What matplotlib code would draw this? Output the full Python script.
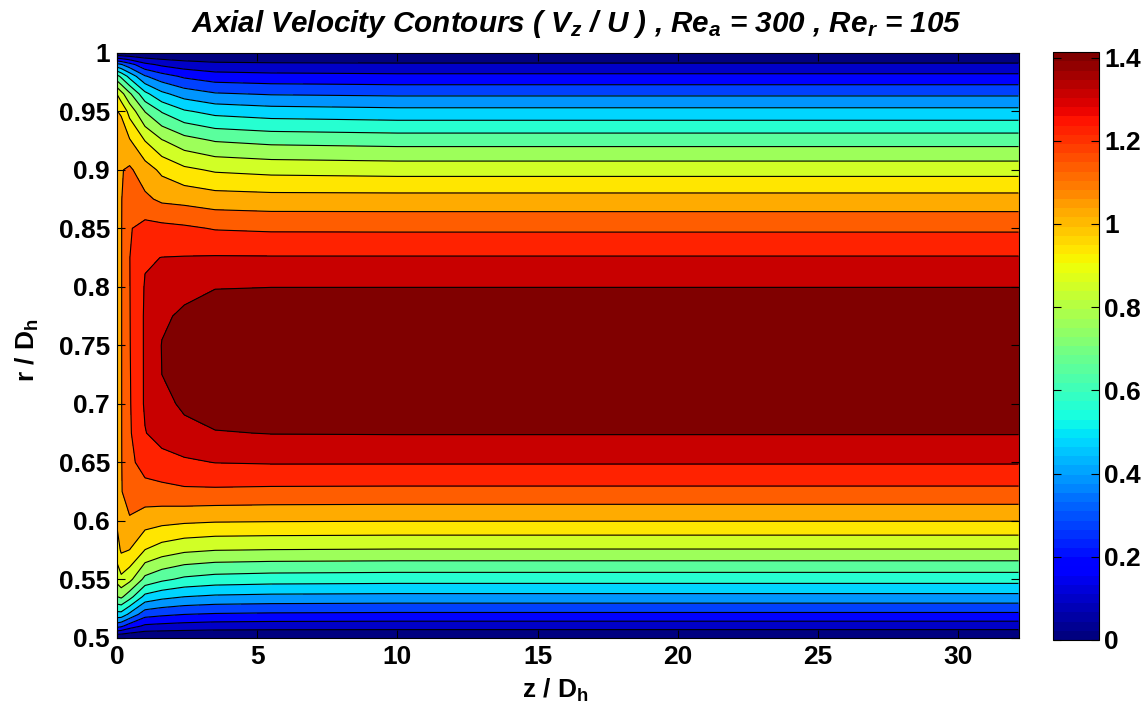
import numpy as np
import matplotlib.pyplot as plt
from matplotlib.colors import ListedColormap, Normalize
from matplotlib.cm import ScalarMappable

plt.rcParams['mathtext.default'] = 'regular'
plt.rcParams['font.family'] = ['Liberation Sans', 'DejaVu Sans']

# stations along the duct (z / Dh) and radial nodes (r / Dh)
z_st = [0.0, 0.15, 0.45, 1.0, 1.6, 2.4, 3.5, 5.5, 10.0, 32.15]
r_nodes = [0.5, 0.51, 0.52, 0.535, 0.55, 0.575, 0.6, 0.625, 0.65, 0.675, 0.7, 0.725,
           0.75, 0.775, 0.8, 0.825, 0.85, 0.875, 0.9, 0.925, 0.95, 0.965, 0.98, 0.99, 1.0]

# axial velocity Vz/U at each station, listed from inner wall to outer wall
u_z000 = [0, 0.32, 0.53, 0.75, 0.88, 0.99, 1.05, 1.07, 1.07, 1.07, 1.07, 1.07, 1.07,
          1.07, 1.07, 1.07, 1.07, 1.07, 1.07, 1.07, 1.04, 0.94, 0.69, 0.41, 0]
u_z015 = [0, 0.30, 0.53, 0.77, 0.92, 1.05, 1.115, 1.125, 1.125, 1.125, 1.125, 1.125, 1.125,
          1.125, 1.125, 1.125, 1.125, 1.125, 1.125, 1.115, 1.02, 0.88, 0.64, 0.385, 0]
u_z045 = [0, 0.235, 0.45, 0.695, 0.875, 1.035, 1.12, 1.175, 1.20, 1.213, 1.216, 1.218, 1.22,
          1.221, 1.222, 1.223, 1.218, 1.197, 1.145, 1.045, 0.91, 0.77, 0.535, 0.32, 0]
u_z100 = [0, 0.17, 0.32, 0.535, 0.727, 0.94, 1.08, 1.187, 1.267, 1.315, 1.331, 1.331, 1.331,
          1.331, 1.326, 1.31, 1.256, 1.149, 1.08, 0.94, 0.75, 0.59, 0.385, 0.214, 0]
u_z160 = [0, 0.16, 0.30, 0.497, 0.679, 0.898, 1.064, 1.197, 1.283, 1.358, 1.39, 1.413, 1.416,
          1.40, 1.363, 1.32, 1.251, 1.112, 1.016, 0.855, 0.652, 0.492, 0.321, 0.171, 0]
u_z240 = [0, 0.15, 0.283, 0.47, 0.641, 0.866, 1.053, 1.208, 1.304, 1.39, 1.427, 1.449, 1.452,
          1.427, 1.39, 1.323, 1.24, 1.101, 0.962, 0.791, 0.577, 0.428, 0.267, 0.139, 0]
u_z350 = [0, 0.141, 0.273, 0.454, 0.62, 0.85, 1.045, 1.208, 1.321, 1.407, 1.465, 1.486, 1.486,
          1.459, 1.409, 1.326, 1.219, 1.08, 0.93, 0.748, 0.535, 0.385, 0.23, 0.118, 0]
u_z550 = [0, 0.137, 0.267, 0.446, 0.609, 0.845, 1.042, 1.203, 1.326, 1.416, 1.475, 1.502, 1.500,
          1.47, 1.412, 1.325, 1.211, 1.072, 0.914, 0.727, 0.513, 0.369, 0.219, 0.112, 0]
u_dev = [0, 0.135, 0.263, 0.441, 0.603, 0.841, 1.039, 1.201, 1.326, 1.418, 1.478, 1.506, 1.503,
         1.472, 1.412, 1.325, 1.210, 1.071, 0.905, 0.715, 0.500, 0.360, 0.211, 0.108, 0]

profiles = [u_z000, u_z015, u_z045, u_z100, u_z160, u_z240, u_z350, u_z550, u_dev, u_dev]

xticks = [0, 5, 10, 15, 20, 25, 30]
yticks = [0.5, 0.55, 0.6, 0.65, 0.7, 0.75, 0.8, 0.85, 0.9, 0.95, 1.0]
ytick_labels = ['0.5', '0.55', '0.6', '0.65', '0.7', '0.75', '0.8', '0.85', '0.9', '0.95', '1']
cticks = [0, 0.2, 0.4, 0.6, 0.8, 1.0, 1.2, 1.4]
cticks_labels = ['0', '0.2', '0.4', '0.6', '0.8', '1', '1.2', '1.4']

Z, R = np.meshgrid(z_st, r_nodes)
V = np.array(profiles).T

# 16 filled bands, colour taken at the lower edge of each band (jet, 64 steps)
levels = np.arange(17) * 0.0942
jet64 = ListedColormap(plt.get_cmap('jet')(np.linspace(0, 1, 64)))
band_colors = [jet64(k / 15) for k in range(16)]

fig = plt.figure(figsize=(11.47, 7.15), dpi=100)
ax = fig.add_axes([0.102, 0.108, 0.786, 0.818])
ax.contourf(Z, R, V, levels=levels, colors=band_colors)
ax.contour(Z, R, V, levels=levels[1:-1], colors='k', linewidths=0.8)

ax.set_xlim(0, 32.15)
ax.set_ylim(0.5, 1.0)
ax.set_xticks(xticks)
ax.set_yticks(yticks)
ax.set_yticklabels(ytick_labels)
ax.tick_params(direction='in', top=True, right=True, length=6, width=0.8,
               labelsize=19, pad=5)
for lab in ax.get_xticklabels() + ax.get_yticklabels():
    lab.set_fontweight('bold')
for sp in ax.spines.values():
    sp.set_linewidth(0.8)

fig.text(0.484, 0.035, 'z / D$_h$', ha='center', va='center', fontsize=19,
         fontweight='bold')
fig.text(0.024, 0.51, 'r / D$_h$', ha='center', va='center', rotation=90,
         fontsize=19, fontweight='bold')
fig.text(0.502, 0.966,
         'Axial Velocity Contours ( V$_z$ / U ) , Re$_a$ = 300 , Re$_r$ = 105',
         ha='center', va='center', fontsize=21.3, fontweight='bold', style='italic')

cax = fig.add_axes([0.918, 0.105, 0.040, 0.822])
sm = ScalarMappable(norm=Normalize(0, 15 * 0.0942), cmap=jet64)
cb = fig.colorbar(sm, cax=cax, ticks=cticks)
cb.set_ticklabels(cticks_labels)
cb.outline.set_linewidth(0.8)
cax.tick_params(direction='in', left=True, right=True, length=6, width=0.8,
                labelsize=19, pad=4)
for lab in cax.get_yticklabels():
    lab.set_fontweight('bold')

fig.savefig('out.png', dpi=100)
